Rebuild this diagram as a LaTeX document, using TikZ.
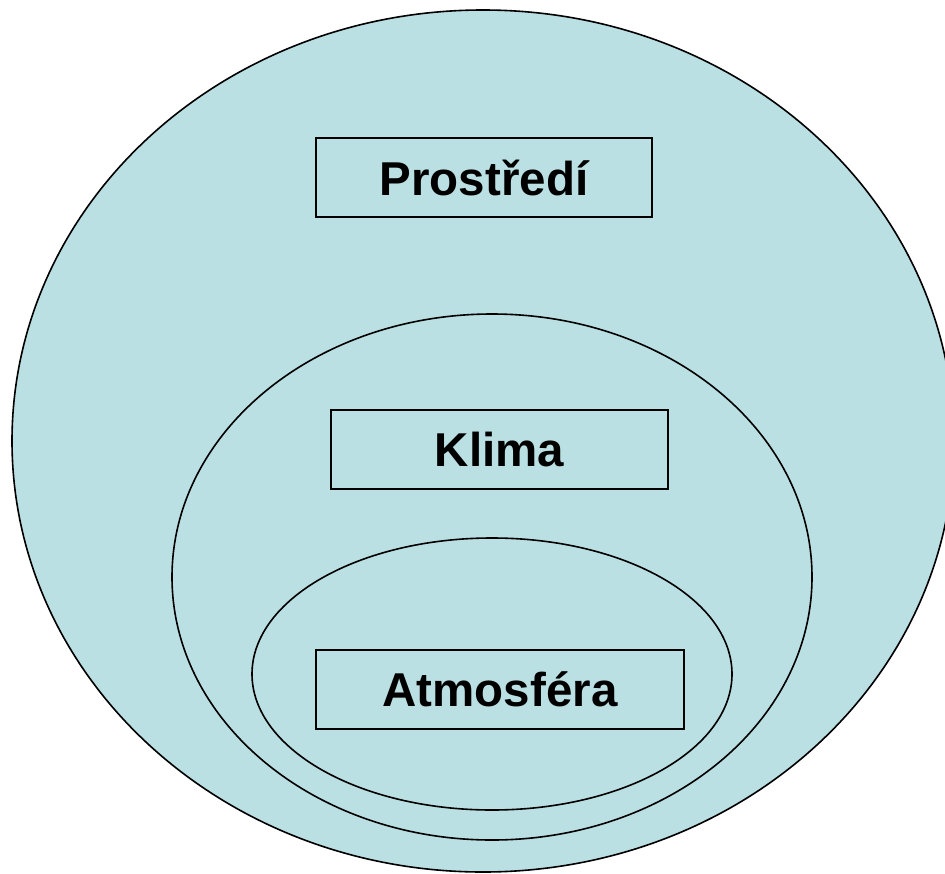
\documentclass[tikz,border=0pt]{standalone}
\usepackage{fontspec}
\setmainfont{Liberation Sans}
\definecolor{envfill}{RGB}{187,224,227}
\begin{document}
\begin{tikzpicture}[x=1pt,y=-1pt,
  ring/.style={draw=black,line width=1.6pt,fill=envfill},
  labelbox/.style={draw=black,line width=2pt,fill=envfill,inner sep=0pt,
    font=\fontsize{47.5}{52}\selectfont\bfseries}]
\useasboundingbox (0,0) rectangle (945,873);
\clip (0,0) rectangle (945,873);
\fill[white] (0,0) rectangle (945,873);
\draw[ring] (483,441) ellipse [x radius=471, y radius=431];
\draw[ring] (492,577) ellipse [x radius=320, y radius=263];
\draw[ring] (492,674) ellipse [x radius=240, y radius=136];
\node[labelbox, minimum width=336pt, minimum height=79pt] (prostredi) at (484,177.5) {Prostředí};
\node[labelbox, minimum width=337pt, minimum height=79pt] (klima) at (499.5,449.5) {Klima};
\node[labelbox, minimum width=368pt, minimum height=79pt] (atmosfera) at (500,689.5) {Atmosféra};
\end{tikzpicture}
\end{document}
